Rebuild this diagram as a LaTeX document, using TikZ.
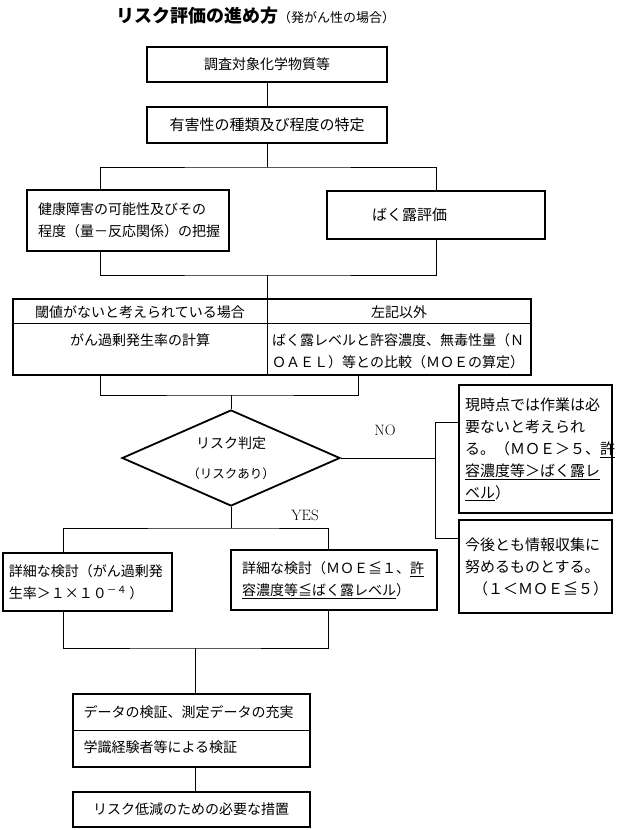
\documentclass[tikz,border=0pt]{standalone}
\usepackage{fontspec}
\newfontfamily\jpfont{Noto Sans CJK JP}
\usetikzlibrary{shapes.geometric, calc}

\begin{document}
\begin{tikzpicture}[
      x=1pt, y=-1pt,
      font=\jpfont\fontsize{14pt}{22pt}\selectfont,
      box/.style={draw, line width=2.4pt, inner sep=0pt, align=left},
      bigtext/.style={font=\jpfont\fontsize{15pt}{22pt}\selectfont},
      link/.style={line width=0.8pt}
    ]
    \useasboundingbox (0,0) rectangle (618,830);

    % title
    \node[anchor=west, inner sep=0pt] (title) at (116,16)
      {{\fontsize{18pt}{20pt}\selectfont\bfseries リスク評価の進め方}{\fontsize{13pt}{14pt}\selectfont （発がん性の場合）}};

    % upper part
    \node[box, minimum width=240pt, minimum height=35pt] (subst) at (267,64.5) {調査対象化学物質等};
    \node[box, bigtext, minimum width=240pt, minimum height=36pt] (hazard) at (267,125) {有害性の種類及び程度の特定};
    \node[box, minimum width=202pt, minimum height=61pt, text width=180pt, inner xsep=11pt] (dose) at (128,220.5)
      {健康障害の可能性及びその\\程度（量－反応関係）の把握};
    \node[box, bigtext, minimum width=218pt, minimum height=48pt, text width=128pt, inner xsep=45pt] (expo) at (436,215) {ばく露評価};

    % table
    \node[box, minimum width=518pt, minimum height=76pt] (table) at (272,337) {};
    \draw[link] ($(table.north west)+(0,26)$) -- ($(table.north east)+(0,26)$);
    \draw[link] ($(table.north)+(-5,0)$) -- ($(table.south)+(-5,0)$);
    \node (noThr) at (140,312) {閾値がないと考えられている場合};
    \node (other) at (399,312) {左記以外};
    \node (excess) at (140,340) {がん過剰発生率の計算};
    \node[anchor=west, align=left, inner xsep=0pt] (compare) at (272,351)
      {ばく露レベルと許容濃度、無毒性量（Ｎ\\ＯＡＥＬ）等との比較（ＭＯＥの算定）};

    % judgement
    \node[diamond, draw, line width=1.8pt, minimum width=218pt, minimum height=96pt, aspect=2.27,
          inner sep=0pt, align=center] (judge) at (231,458)
      {リスク判定\\[8pt]{\fontsize{12.5pt}{14pt}\selectfont（リスクあり）}};
    \node (nolab) at (385,430) {\rmfamily\fontsize{15pt}{16pt}\selectfont NO};
    \node (yeslab) at (305,515) {\rmfamily\fontsize{15pt}{16pt}\selectfont YES};

    \node[box, bigtext, minimum width=153pt, minimum height=128pt, text width=141pt, inner xsep=6pt] (nowork) at (535.5,449)
      {現時点では作業は必\\要ないと考えられ\\る。（ＭＯＥ＞５、\underline{許}\\\underline{容濃度等＞ばく露レ}\\\underline{ベル}）};
    \node[box, bigtext, minimum width=153pt, minimum height=93pt, text width=141pt, inner xsep=6pt] (collect) at (535.5,566.5)
      {今後とも情報収集に\\努めるものとする。\\\hspace*{8pt}（１＜ＭＯＥ≦５）};

    \node[box, minimum width=169pt, minimum height=58pt, text width=157pt, inner xsep=6pt] (det1) at (87.5,582)
      {詳細な検討（がん過剰発\\生率＞１×１０\textsuperscript{－４}\,）};
    \node[box, minimum width=206pt, minimum height=60pt, text width=184pt, inner xsep=11pt] (det2) at (334,580)
      {詳細な検討（ＭＯＥ≦１、\underline{許}\\\underline{容濃度等≦ばく露レベル}）};

    % lower part
    \node[box, minimum width=237pt, minimum height=73pt] (verify) at (191.5,730.5) {};
    \draw[link] (verify.west) -- (verify.east);
    \node[anchor=west] (vf1) at (80,712) {データの検証、測定データの充実};
    \node[anchor=west] (vf2) at (80,747) {学識経験者等による検証};
    \node[box, minimum width=237pt, minimum height=35pt, text width=197pt, inner xsep=20pt] (measure) at (191.5,809.5)
      {リスク低減のための必要な措置};

    % connectors
    \coordinate (fork1) at (267,167);
    \coordinate (join1) at (267,275);
    \coordinate (join2) at (231,395);
    \coordinate (noSplit) at (435,458);
    \coordinate (fork2) at (231,528);
    \coordinate (join3) at (195,648);

    \draw[link] (subst) -- (hazard);
    \draw[link] (hazard) -- (fork1);
    \draw[link] ([xshift=-28pt]dose.north) |- (fork1) -| (expo.north);
    \draw[link] ([xshift=-28pt]dose.south) |- (join1) -| (expo.south);
    \draw[link] (join1) -- (join1 |- table.north);
    \draw[link] (table.south -| 100,0) |- (join2) -| (table.south -| 358,0);
    \draw[link] (join2) -- (judge.north);
    \draw[link] (judge.east) -- (noSplit);
    \draw[link] (nowork.west |- 0,422) -- (435,422) |- (collect.west |- 0,538);
    \draw[link] (judge.south) -- (fork2);
    \draw[link] (det1.north -| 63,0) |- (fork2) -| (det2.north -| 328,0);
    \draw[link] (det1.south -| 63,0) |- (join3) -| (det2.south -| 328,0);
    \draw[link] (join3) -- (join3 |- verify.north);
    \draw[link] (verify.south -| join3) -- (measure.north -| join3);
  \end{tikzpicture}
\end{document}
